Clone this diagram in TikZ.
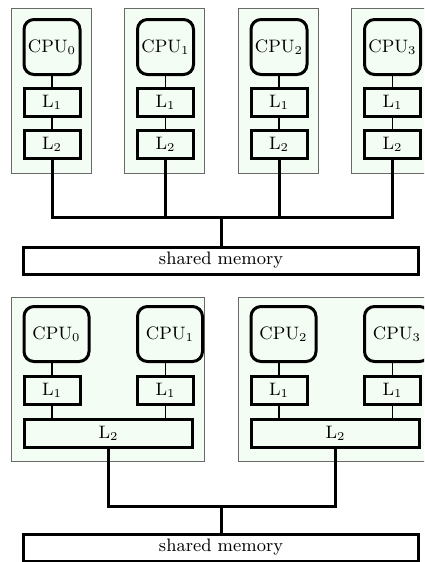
\documentclass[tikz,border=0pt]{standalone}
\usepackage{amsmath}
\usepackage{tikz}
\usetikzlibrary{positioning, calc}
\usepackage{xcolor}
\definecolor{boxgreen}{RGB}{244,253,244}
\definecolor{framegray}{RGB}{105,105,105}

\tikzset{
  cpu/.style={draw, line width=1.5pt, rounded corners=5pt, fill=boxgreen,
    minimum height=27.5pt, inner sep=0pt, font=\small},
  cache/.style={draw, line width=1.5pt, fill=boxgreen, minimum height=14pt,
    inner sep=0pt, font=\small},
  mem/.style={draw, line width=1.5pt, fill=white, minimum width=197.5pt,
    minimum height=13.5pt, inner sep=0pt, font=\small},
  group/.style={draw=framegray, line width=0.5pt, fill=boxgreen},
  wire/.style={line width=0.6pt},
  bus/.style={line width=1.5pt}
}

\begin{document}
\begin{tikzpicture}[x=0.5pt, y=-0.5pt]
  \clip (0,0) rectangle (424,562);
  % private caches
  \foreach \i in {0,...,3} {
    \pgfmathsetmacro\cx{52+113.5*\i}
    \draw[group] (\cx-41,8) rectangle (\cx+39,173);
    \node[cpu, minimum width=28pt] (tcpu\i) at (\cx,47) {CPU$_\i$};
    \node[cache, minimum width=28pt] (tlone\i) at (\cx,102) {L$_1$};
    \node[cache, minimum width=28pt] (tltwo\i) at (\cx,144) {L$_2$};
    \draw[wire] (tcpu\i) -- (tlone\i);
    \draw[wire] (tlone\i) -- (tltwo\i);
  }
  \node[mem] (tmem) at (221,260.5) {shared memory};
  \coordinate (tbus) at (221,217);
  \draw[bus] (tltwo0.south) |- (tbus) -| (tltwo3.south);
  \foreach \i in {1,2}
    \draw[bus] (tltwo\i.south) -- (tltwo\i.south |- tbus);
  \draw[bus] (tbus) -- (tmem.north);

  % shared L2
  \foreach \g in {0,1} {
    \pgfmathsetmacro\gx{52+227*\g}
    \draw[group] (\gx-41,297) rectangle (\gx+152,461);
    \node[cache, minimum width=84pt] (bltwo\g) at (\gx+56.5,433) {L$_2$};
    \foreach \k in {0,1} {
      \pgfmathtruncatemacro\j{2*\g+\k}
      \pgfmathsetmacro\cx{52+113.5*\j}
      \node[cpu, minimum width=32.5pt] (bcpu\j) at (\cx+4.5,334) {CPU$_\j$};
      \node[cache, minimum width=28pt] (blone\j) at (\cx,390) {L$_1$};
      \draw[wire] (blone\j.north) -- (blone\j.north |- bcpu\j.south);
      \draw[wire] (blone\j.south) -- (blone\j.south |- bltwo\g.north);
    }
  }
  \node[mem] (bmem) at (221,547.5) {shared memory};
  \coordinate (bbus) at (221,506.7);
  \draw[bus] (bltwo0.south) |- (bbus) -| (bltwo1.south);
  \draw[bus] (bbus) -- (bmem.north);
\end{tikzpicture}
\end{document}
